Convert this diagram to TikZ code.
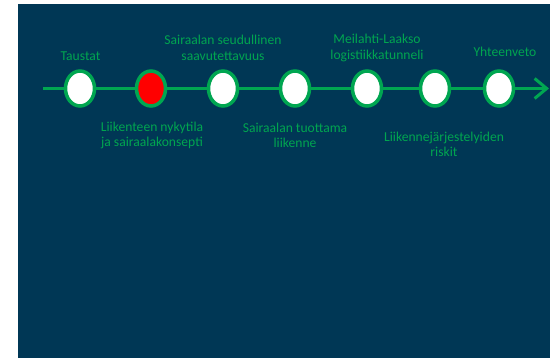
\documentclass[tikz,border=0pt]{standalone}
\usepackage{fontspec}
\setmainfont{Carlito}
\usetikzlibrary{shapes.geometric,arrows.meta}
\definecolor{bgblue}{RGB}{0,55,85}
\definecolor{stepgreen}{RGB}{0,166,81}
\definecolor{txtgreen}{RGB}{0,165,80}
\tikzset{
  stop/.style={draw=stepgreen,ellipse,line width=3.5pt,minimum width=29pt,minimum height=35pt,inner sep=0pt},
  link/.style={draw=stepgreen,line width=3pt},
  lbl/.style={text=txtgreen,align=center,inner sep=0pt,font=\fontsize{13.6}{15.5}\selectfont}
}
\begin{document}
\begin{tikzpicture}[x=1pt,y=-1pt]
\useasboundingbox (0,0) rectangle (550,358);
\fill[bgblue] (18,4) rectangle (550,358);

%Line ends
\coordinate (start) at (43,88.5);
\coordinate (end) at (549,88.5);

%Stops
\node[stop,fill=white] (s1) at (80,88.5){};
\node[stop,fill=red] (s2) at (151,88.5){};
\node[stop,fill=white] (s3) at (223,88.5){};
\node[stop,fill=white] (s4) at (295,88.5){};
\node[stop,fill=white] (s5) at (367,88.5){};
\node[stop,fill=white] (s6) at (435,88.5){};
\node[stop,fill=white] (s7) at (499,88.5){};

\draw[link] (start) -- (s1.west);
\draw[link] (s1.east) -- (s2.west);
\draw[link] (s2.east) -- (s3.west);
\draw[link] (s3.east) -- (s4.west);
\draw[link] (s4.east) -- (s5.west);
\draw[link] (s5.east) -- (s6.west);
\draw[link] (s6.east) -- (s7.west);
\draw[link,-{Straight Barb[length=12pt,width=20pt]}] (s7.east) -- (end);

%Labels above
\node[lbl] (l1) at (80.5,56){Taustat};
\node[lbl] (l3) at (223,48){Sairaalan seudullinen\\saavutettavuus};
\node[lbl] (l5) at (377,48){Meilahti-Laakso\\logistiikkatunneli};
\node[lbl] (l7) at (505,51.5){Yhteenveto};

%Labels below
\node[lbl] (l2) at (152,135.5){Liikenteen nykytila\\ja sairaalakonsepti};
\node[lbl] (l4) at (295,135.5){Sairaalan tuottama\\liikenne};
\node[lbl] (l6) at (444,144.5){Liikennejärjestelyiden\\riskit};

\end{tikzpicture}
\end{document}
